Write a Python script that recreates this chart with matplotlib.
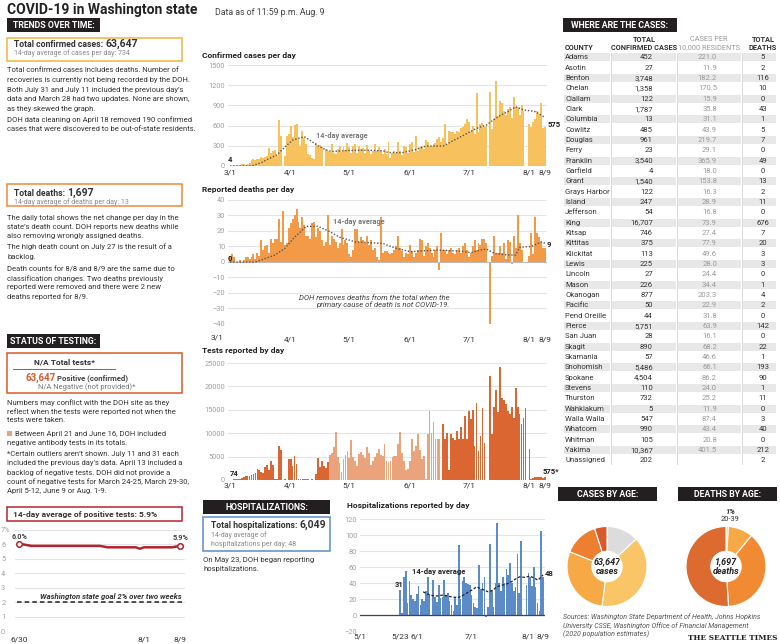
import numpy as np
import pandas as pd
import matplotlib
matplotlib.use("Agg")
import matplotlib.pyplot as plt
from matplotlib.patches import Rectangle

plt.rcParams['font.family'] = ['Roboto', 'DejaVu Sans']

# ---------------- data ----------------
start = pd.Timestamp('2020-03-01')
nan = np.nan

# confirmed cases per day, 3/1 .. 8/9 (nan = not shown)
cases = [4, 3, 8, 10, 18, 14, 25, 30, 22, 28,
         40, 95, 100, 90, 110, 100, 130, 120, 140, 150,
         270, 190, 230, 240, 150, 690, 450, nan, 150, 450,
         480, 600, 430, 610, 620, 400, 300, 520, 420, 330,
         180, 160, 120, 100, 340, 300, 310, 280, nan, 250,
         230, 210, 330, 200, 180, 250, 300, 210, 280, 240,
         340, 280, 200, 290, 320, 200, 300, 250, 260, 200,
         310, 240, 180, 230, 330, 220, 280, 220, 180, 250,
         180, 350, 120, 200, 230, 190, 350, 230, 170, 300,
         280, 200, 330, 350, 210, 450, 220, 280, 300, 250,
         380, 360, 290, 300, 330, 340, 400, 430, 360, 420,
         620, 330, 520, 500, 510, 480, 520, 500, 560, 580,
         620, 700, 650, 520, 600, 480, 1080, 500, 620, 640,
         580, 600, nan, 1100, 550, 700, 1260, 750, 960, 940,
         820, 760, 850, 870, 720, 1020, 880, 870, 760, 900,
         820, nan, nan, 620, 580, 650, 700, 820, 770, 930,
         570, 575]
cases_avg_days = [0, 10, 12, 16, 20, 24, 28, 32, 35, 38, 41, 45, 49, 52, 60, 70, 78, 81, 88,
                  94, 100, 109, 113, 118, 126, 131, 137, 142, 146, 150, 153, 156, 161]
cases_avg = [0, 2, 10, 50, 110, 165, 280, 385, 410, 435, 380, 300, 240, 215, 230, 235, 225, 200, 198,
             237, 295, 297, 360, 435, 560, 608, 733, 807, 880, 832, 822, 807, 720]

# reported deaths per day
deaths = [4, 5, 3, 0, 0, 1, 0, 1, 3, 3,
          2, 3, 5, 2, 6, 4, 14, 8, 10, 11,
          6, 15, 12, 15, 15, 28, 13, 33, 11, 12,
          22, 25, 28, 30, 34, 26, 22, 29, 24, 17,
          17, 15, 25, 26, 16, 22, 20, 14, 10, 13,
          30, 11, 17, 15, 13, 9, 12, 21, 11, 14,
          12, 5, 3, 8, 21, 21, 13, 16, 14, 12,
          17, 11, 14, 8, 9, 3, 1, 29, 6, 7,
          7, 6, 5, 6, 8, 10, 17, 9, 7, 3,
          6, 5, 11, 7, 3, 6, 8, 15, 14, 4,
          10, 12, 9, 6, 3, 8, 10, -5, 19, 8,
          8, 5, 8, 9, 6, 5, 8, 9, 6, 10,
          12, 8, 3, 6, 10, 14, 8, 12, 11, 15,
          15, 12, nan, -40, 4, 17, 5, 6, 10, 6,
          12, 2, 14, 13, -1, 17, 9, 30, 12, 8,
          0, 0, nan, 4, 19, 5, 29, 19, 16, 13,
          9, 9]
deaths_avg_days = [0, 13, 16, 23, 28, 33, 39, 45, 51, 56, 64, 78, 85, 92, 106, 118, 123,
                   128, 131, 135, 142, 146, 148, 154, 159, 161]
deaths_avg = [0, 0, 1.3, 4.5, 8.8, 16, 23, 23, 19.6, 16, 13, 12, 8.8, 6.7, 7.7, 7, 6,
              7.7, 8.4, 5.6, 4.5, 4.5, 9.5, 10, 13, 12]

# tests reported by day
tests = [74, 100, 150, 200, 250, 300, 400, 700, 800, 900,
         900, 1100, 1300, 1500, 2300, 2100, 1700, 1500, 2800, 3300,
         2100, 4000, 3300, 200, 150, 7300, 6400, nan, 150, 100,
         4500, 4500, 3000, 5200, 3400, 200, 200, 300, 250, 150,
         150, 100, 150, nan, 1300, 4600, 2700, 4000, 3000, 2500,
         3900, 5300, 5800, 7000, 10200, 5000, 3700, 1700, 4500, 5300,
         6100, 4600, 8600, 5000, 4000, 3000, 5500, 6000, 5300, 4800,
         7100, 5800, 3200, 4000, 5000, 5700, 6700, 5400, 5200, 7700,
         4000, 3800, 4000, 5000, 5200, 5200, 7600, 10300, 5700, 4000,
         2200, 2300, 4000, 8800, 6200, 7300, 9800, 6400, 4500, 5200,
         300, 9800, 14800, 10000, 12500, 8700, 8700, 8800, nan, 11900,
         8800, 10100, 2200, 9800, 9000, 8500, 10500, 8700, 11400, 8700,
         13700, 8700, 14800, 13000, 15000, 7300, 16500, 6200, 9500, 15300,
         8000, nan, nan, 22300, 9900, 15600, 19300, 14500, 24100, 17500,
         17000, 16200, 14800, 14000, 15700, 13200, 19700, 15600, 14000, 12000,
         13200, 15300, nan, 6700, 300, 500, 600, 600, 700, 600,
         500, 575]
antibody_start, antibody_end = '2020-04-21', '2020-06-16'

# hospitalizations, 5/23 .. 8/9
hosp_start = pd.Timestamp('2020-05-23')
hosp = [31, 2, 48, 55, 15, 42, 25, 20, 17, 26,
        36, 12, 20, 18, 30, 48, 25, 0, 44, 23,
        16, 37, 21, 22, 44, 25, 28, 18, 12, 5,
        22, 12, 88, 20, 43, 48, 40, 39, 37, 25,
        15, 10, 9, 62, 33, 40, 48, -2, 10, 89,
        30, 10, 40, 115, 40, 30, 48, 40, 58, 50,
        65, 40, 30, 35, 76, 28, 92, 0, 0, 37,
        52, 48, 36, 60, 35, 15, 5, 105, 48]
hosp_avg_days = [34.5, 37, 41, 45.5, 50, 53.6, 55.5, 61, 63.6, 66, 70, 72.7, 74.5, 77, 80,
                 82.7, 85.5, 87.3, 90, 92.7, 94.5, 97.3, 100]
hosp_avg = [29, 26, 23.5, 25, 22.6, 21.8, 23.5, 31, 35, 33, 29, 31, 35, 37, 38.6,
            41.5, 45.7, 47.8, 47, 48.6, 47, 43.6, 50]

# 14-day average of positive tests, 6/30 .. 8/9
pos_rate = [6.0, 6.0, 5.95] + [5.9] * 18 + [5.85] + [5.8] * 8 + [5.7] + [5.8] * 8 + [5.85, 5.9]

counties = ['Adams', 'Asotin', 'Benton', 'Chelan', 'Clallam', 'Clark', 'Columbia', 'Cowlitz',
            'Douglas', 'Ferry', 'Franklin', 'Garfield', 'Grant', 'Grays Harbor', 'Island',
            'Jefferson', 'King', 'Kitsap', 'Kittitas', 'Klickitat', 'Lewis', 'Lincoln', 'Mason',
            'Okanogan', 'Pacific', 'Pend Oreille', 'Pierce', 'San Juan', 'Skagit', 'Skamania',
            'Snohomish', 'Spokane', 'Stevens', 'Thurston', 'Wahkiakum', 'Walla Walla', 'Whatcom',
            'Whitman', 'Yakima', 'Unassigned']
county_cases = [452, 27, 3748, 1358, 122, 1787, 13, 485, 961, 23, 3540, 4, 1540, 122, 247, 54,
                16707, 746, 375, 113, 225, 27, 226, 877, 50, 44, 5751, 28, 890, 57, 5486, 4504,
                110, 732, 5, 547, 990, 105, 10367, 202]
county_per10k = [221.0, 11.9, 182.2, 170.5, 15.9, 35.8, 31.1, 43.9, 219.7, 29.1, 365.9, 18.0,
                 153.8, 16.3, 28.9, 16.8, 73.9, 27.4, 77.9, 49.6, 28.0, 24.4, 34.4, 203.3, 22.9,
                 31.8, 63.9, 16.1, 68.2, 46.6, 66.1, 86.2, 24.0, 25.2, 11.9, 87.4, 43.4, 20.8,
                 401.5, None]
county_deaths = [5, 2, 116, 10, 0, 43, 1, 5, 7, 0, 49, 0, 13, 2, 11, 0, 676, 7, 20, 3, 3, 0, 1,
                 4, 2, 0, 142, 0, 22, 1, 193, 90, 1, 11, 0, 3, 40, 0, 212, 2]

case_age_groups = ['0-19', '20-39', '40-59', '60-79', '80+']
case_age_pct = [13, 39, 29, 14, 5]
death_age_groups = ['20-39', '40-59', '60-79', '80+']
death_age_pct = [1, 10, 38, 51]

tick_dates = ['2020-03-01', '2020-04-01', '2020-05-01', '2020-06-01', '2020-07-01',
              '2020-08-01', '2020-08-09']
tick_labels = ['3/1', '4/1', '5/1', '6/1', '7/1', '8/1', '8/9']

# ---------------- layout helpers ----------------
W, H = 780, 644
fig = plt.figure(figsize=(W / 100, H / 100), dpi=100)
canvas = fig.add_axes([0, 0, 1, 1])
canvas.set_xlim(0, W)
canvas.set_ylim(H, 0)
canvas.axis('off')
renderer = fig.canvas.get_renderer()

DARK = '#333333'
GRAY = '#8a8a8a'
BODY = 5.5


def px_axes(x0, y0, x1, y1):
    return fig.add_axes([x0 / W, 1 - y1 / H, (x1 - x0) / W, (y1 - y0) / H])


def label(x, y, s, size=BODY, color=DARK, weight='normal', style='normal', ha='left', va='center', **kw):
    return canvas.text(x, y, s, fontsize=size, color=color, fontweight=weight, fontstyle=style,
                       ha=ha, va=va, **kw)


def label_after(first, y, s, gap=2, **kw):
    # put a second text just after the right edge of the first one
    bb = first.get_window_extent(renderer)
    return label(bb.x1 + gap, y, s, **kw)


def header(x0, y0, x1, y1, s):
    canvas.add_patch(Rectangle((x0, y0), x1 - x0, y1 - y0, color='#231f20', lw=0))
    label((x0 + x1) / 2, (y0 + y1) / 2 + 0.5, s, size=6.3, color='white', weight='bold', ha='center')


def outline(x0, y0, x1, y1, color):
    canvas.add_patch(Rectangle((x0, y0), x1 - x0, y1 - y0, fill=False, ec=color, lw=1.1))


def lines(x, y0, step, texts, **kw):
    for i, t in enumerate(texts):
        label(x, y0 + i * step, t, **kw)


def day_of(d, base=start):
    return (pd.Timestamp(d) - base).days


def style_chart(ax, ylim, yticks, xlim, grid_color='#e4e4e4'):
    for s in ax.spines.values():
        s.set_visible(False)
    ax.set_xlim(*xlim)
    ax.set_ylim(*ylim)
    ax.set_yticks(yticks)
    ax.grid(axis='y', color=grid_color, lw=0.8)
    ax.set_axisbelow(True)
    ax.tick_params(axis='y', length=0, labelsize=5.3, labelcolor='#a0a0a0', pad=2)
    ax.tick_params(axis='x', length=0, labelsize=6, labelcolor=DARK)
    ax.patch.set_alpha(0)


# ---------------- title ----------------
label(7, 10, 'COVID-19 in Washington state', size=10, weight='bold', color='#222')
label(215, 12, 'Data as of 11:59 p.m. Aug. 9', size=6.3, color='#444')

# ---------------- left column ----------------
header(7, 18, 100, 32, 'TRENDS OVER TIME:')
outline(7, 38, 182, 61, '#f5b240')
t = label(14, 44, 'Total confirmed cases:', size=6.2, weight='bold')
label_after(t, 43.5, '63,647', size=7.5, weight='bold')
label(14, 53.5, '14-day average of cases per day: 734', size=5, color=GRAY)
lines(7, 70, 9.6, ['Total confirmed cases includes deaths. Number of',
                   'recoveries is currently not being recorded by the DOH.'])
lines(7, 90, 9.4, ['Both July 31 and July 11 included the previous day\u2019s',
                   'data and March 28 had two updates. None are shown,',
                   'as they skewed the graph.'])
lines(7, 119.5, 9.6, ['DOH data cleaning on April 18 removed 190 confirmed',
                      'cases that were discovered to be out-of-state residents.'])

outline(7, 184, 182, 206, '#f08a3c')
t = label(14, 193, 'Total deaths:', size=6.2, weight='bold')
label_after(t, 192.5, '1,697', size=7.5, weight='bold')
label(14, 202.5, '14-day average of deaths per day: 13', size=5, color=GRAY)
lines(7, 218, 9, ['The daily total shows the net change per day in the',
                  'state\u2019s death count. DOH reports new deaths while',
                  'also removing wrongly assigned deaths.'])
lines(7, 247, 9.5, ['The high death count on July 27 is the result of a', 'backlog.'])
lines(7, 269, 9.2, ['Death counts for 8/8 and 8/9 are the same due to',
                    'classification changes. Two deaths previously',
                    'reported were removed and there were 2 new',
                    'deaths reported for 8/9.'])

header(7, 334, 100, 348, 'STATUS OF TESTING:')
outline(7, 353, 182, 393, '#d85a2a')
label(65, 362, 'N/A Total tests*', size=6, weight='bold', ha='center')
canvas.plot([13, 115], [369, 369], color='#555', lw=0.6)
t = label(25, 377.5, '63,647', size=7, weight='bold', color='#d85a2a')
label_after(t, 378, 'Positive (confirmed)', gap=1.5, size=5.6, weight='bold', color='#444')
label(38, 387.5, 'N/A Negative (not provided)*', size=5.4, color='#777')
lines(7, 403, 8.7, ['Numbers may conflict with the DOH site as they',
                    'reflect when the tests were reported not when the',
                    'tests were taken.'])
canvas.add_patch(Rectangle((7, 431), 5, 5, color='#eba37c', lw=0))
label(15, 433.5, 'Between April 21 and June 16, DOH included')
label(7, 442.5, 'negative antibody tests in its totals.')
lines(7, 454, 9.2, ['*Certain outliers aren\u2019t shown. July 11 and 31 each',
                    'included the previous day\u2019s data. April 13 included a',
                    'backlog of negative tests. DOH did not provide a',
                    'count of negative tests for March 24-25, March 29-30,',
                    'April 5-12, June 9 or Aug. 1-9.'])

outline(7, 507, 182, 521, '#b32430')
label(13, 514, '14-day average of positive tests: 5.9%', size=6, weight='bold')

# positive tests chart
ax = px_axes(15, 530, 185, 631)
pdays = np.arange(len(pos_rate))
style_chart(ax, (0, 7), range(0, 8), (-1.07, 41.24))
ax.plot(pdays, pos_rate, color='#b32430', lw=1.8, solid_capstyle='round')
ax.plot([pdays[0], pdays[-1]], [pos_rate[0], pos_rate[-1]], 'o', mfc='white', mec='#b32430',
        ms=4, mew=1.1)
ax.axhline(2, color='#222', lw=1.1, ls=(0, (3, 2)), xmin=0.01, xmax=0.98)
ax.text(40.5, 2.15, 'Washington state goal 2% over two weeks', fontsize=5.6, fontweight='bold',
        fontstyle='italic', color='#333', ha='right', va='bottom')
ax.text(pdays[0], pos_rate[0] + 0.25, f'{pos_rate[0]:.1f}%', fontsize=5.2, fontweight='bold',
        color='#444', ha='center', va='bottom')
ax.text(pdays[-1], pos_rate[-1] + 0.25, f'{pos_rate[-1]:.1f}%', fontsize=5.2, fontweight='bold',
        color='#444', ha='center', va='bottom')
ax.set_yticklabels(['0', '1', '2', '3', '4', '5', '6', '7%'])
for t in ax.get_yticklabels():
    t.set_ha('left')
ax.tick_params(axis='y', pad=10)
pos_start = pd.Timestamp('2020-06-30')
ax.set_xticks([0, day_of('2020-07-31', pos_start), day_of('2020-08-09', pos_start)])
ax.set_xticklabels(['6/30', '8/1', '8/9'])
ax.tick_params(axis='x', pad=4)

# ---------------- middle charts ----------------
days = np.arange(len(cases))
tick_pos = [day_of(d) for d in tick_dates]
xl = (-1.02, 162.0)

label(202, 55, 'Confirmed cases per day', size=6, weight='bold', color='#222')
ax = px_axes(228, 65, 547, 166)
style_chart(ax, (0, 1500), range(0, 1501, 300), xl)
ax.bar(days, cases, width=1.0, color='#f7c25e', lw=0)
ax.plot(cases_avg_days, cases_avg, color='#555', lw=1, ls=(0, (1, 1.3)))
ax.set_xticks(tick_pos)
ax.set_xticklabels(tick_labels)
ax.tick_params(axis='x', pad=2.2)
ax.text(days[0], cases[0] + 40, str(cases[0]), fontsize=5.5, fontweight='bold', color='#222',
        ha='center', va='bottom')
ax.text(days[-1] + 1.5, 620, str(cases[-1]), fontsize=5.5, fontweight='bold', color='#222',
        ha='left', va='center')
ax.text(57, 440, '14-day average', fontsize=5.3, fontweight='bold', color='#777', ha='center',
        va='center')

label(202, 189, 'Reported deaths per day', size=6, weight='bold', color='#222')
ax = px_axes(228, 200, 547, 324)
style_chart(ax, (-40, 40), range(-40, 41, 10), xl)
ax.axhline(0, color='#bbb', lw=0.8)
ax.bar(days, deaths, width=1.0, color='#f29a48', lw=0)
ax.plot(deaths_avg_days, deaths_avg, color='#555', lw=1, ls=(0, (1, 1.3)))
ax.set_xticks(tick_pos[1:])
ax.set_xticklabels(tick_labels[1:])
ax.tick_params(axis='x', pad=9)
label(211, 337, tick_labels[0], size=6)
ax.text(days[0], 2, '0', fontsize=5.5, fontweight='bold', color='#222', ha='center',
        va='center')
ax.text(days[-1] + 1, 11, str(deaths[-1]), fontsize=5.5, fontweight='bold', color='#222',
        ha='left', va='center')
ax.text(66, 25.5, '14-day average', fontsize=5.3, fontweight='bold', color='#777', ha='center',
        va='center')
ax.text(112, -25.5, 'DOH removes deaths from the total when the\nprimary cause of death is not COVID-19.',
        fontsize=5.6, fontstyle='italic', color='#444', ha='right', va='center', linespacing=1.2)

label(202, 350, 'Tests reported by day', size=6, weight='bold', color='#222')
ax = px_axes(228, 363, 547, 480)
style_chart(ax, (0, 25000), range(0, 25001, 5000), xl)
a0, a1 = day_of(antibody_start), day_of(antibody_end)
test_colors = ['#eba37c' if a0 <= d <= a1 else '#dc6631' for d in days]
ax.bar(days, tests, width=0.9, color=test_colors, lw=0)
ax.set_xticks(tick_pos)
ax.set_xticklabels(tick_labels)
ax.tick_params(axis='x', pad=2)
ax.text(days[0], tests[0] + 500, str(tests[0]), fontsize=5.5, fontweight='bold', color='#222',
        ha='left', va='bottom')
ax.text(days[-1] - 1, tests[-1] + 500, f'{tests[-1]}*', fontsize=5.5, fontweight='bold',
        color='#222', ha='left', va='bottom')

# hospitalizations
header(203, 500, 330, 514, 'HOSPITALIZATIONS:')
outline(203, 517, 330, 551, '#5b8cc8')
t = label(211, 525.5, 'Total hospitalizations:', size=6.2, weight='bold')
label_after(t, 525, '6,049', size=7.5, weight='bold')
label(211, 535.5, '14-day average of', size=5, color=GRAY)
label(211, 545, 'hospitalizations per day: 48', size=5, color=GRAY)
lines(203, 560, 9.5, ['On May 23, DOH began reporting', 'hospitalizations.'])

label(347, 505, 'Hospitalizations reported by day', size=6, weight='bold', color='#222')
ax = px_axes(360, 519, 545, 631)
hosp_base = pd.Timestamp('2020-05-01')
hdays = np.arange(len(hosp)) + day_of(hosp_start, hosp_base)
style_chart(ax, (-20, 120), range(-20, 121, 20), (0, 101.1))
ax.axhline(0, color='#444', lw=0.9)
ax.bar(hdays, hosp, width=0.9, color='#5b8cc8', lw=0)
ax.plot(hosp_avg_days, hosp_avg, color='#222', lw=0.9, ls=(0, (2.2, 1.4)))
h_ticks = ['2020-05-01', '2020-05-23', '2020-06-01', '2020-07-01', '2020-08-01', '2020-08-09']
ax.set_xticks([day_of(d, hosp_base) for d in h_ticks])
ax.set_xticklabels(['5/1', '5/23', '6/1', '7/1', '8/1', '8/9'])
ax.tick_params(axis='x', pad=2)
ax.text(hdays[0] - 0.5, hosp[0] + 3, str(hosp[0]), fontsize=5.5, fontweight='bold', color='#222',
        ha='center', va='bottom')
ax.text(hdays[-1] + 1, 52, str(hosp[-1]), fontsize=5.5, fontweight='bold', color='#222',
        ha='left', va='center')
ax.text(43, 54, '14-day average', fontsize=5.5, fontweight='bold', color='#222', ha='center',
        va='center')

# ---------------- table ----------------
header(563, 18, 677, 32, 'WHERE ARE THE CASES:')
label(565, 47.5, 'COUNTY', size=5.3, weight='bold')
label(644, 39.5, 'TOTAL', size=5.3, weight='bold', ha='center')
label(644, 47.5, 'CONFIRMED CASES', size=5.3, weight='bold', ha='center')
label(709, 39.5, 'CASES PER', size=5.3, color='#999', ha='center')
label(709, 47.5, '10,000 RESIDENTS', size=5.3, color='#999', ha='center')
label(763, 39.5, 'TOTAL', size=5.3, weight='bold', ha='center')
label(763, 47.5, 'DEATHS', size=5.3, weight='bold', ha='center')
col_spans = [(564, 610), (612, 676), (678, 741), (743, 776)]
for x in (611, 677, 742):
    canvas.plot([x, x], [53, 464], color='#d6d6d6', lw=0.6)
row_h = 10.33
for i, name in enumerate(counties):
    y = 57.3 + i * row_h
    if i % 2 == 0:
        for c0, c1 in col_spans:
            canvas.add_patch(Rectangle((c0, y - 4), c1 - c0, 8, color='#e8e8e8', lw=0))
    label(565, y, name, size=5.5)
    label(653, y, f'{county_cases[i]:,}', size=5.5, ha='right')
    per = county_per10k[i]
    label(717, y, '' if per is None else f'{per:.1f}', size=5.5, ha='right', color='#9a9a9a')
    label(763, y, str(county_deaths[i]), size=5.5, ha='center')

# ---------------- donuts ----------------
header(558, 487, 657, 501, 'CASES BY AGE:')
header(678, 487, 777, 501, 'DEATHS BY AGE:')


def donut(cx, cy, r, vals, colors):
    a = px_axes(cx - r, cy - r, cx + r, cy + r)
    a.pie(vals, colors=colors, startangle=90, counterclock=False, radius=1,
          wedgeprops=dict(width=0.62, edgecolor='white', linewidth=0.8))
    a.set_xlim(-1, 1)
    a.set_ylim(-1, 1)
    a.set_aspect('equal')
    a.axis('off')


donut(607, 566.5, 40, case_age_pct, ['#dcdcdc', '#f9c566', '#f6a944', '#ee7e30', '#d8592b'])
donut(726, 566.5, 40, death_age_pct, ['#f9c566', '#f6a944', '#f08a33', '#dd6a2e'])

case_lbl_pos = [(616, 534, '#666'), (631, 568, DARK), (583, 568, DARK), (583, 542, 'white'),
                (598, 533, 'white')]
for (x, y, c), g, p in zip(case_lbl_pos, case_age_groups, case_age_pct):
    label(x, y, f'{p}%', size=5.6, weight='bold', style='italic', color=c, ha='center')
    label(x, y + 8.5, g, size=5.4, color=c, ha='center')
death_lbl_pos = [(730, 511, DARK), (736, 535, DARK), (757, 564, 'white'), (697, 564, 'white')]
for (x, y, c), g, p in zip(death_lbl_pos, death_age_groups, death_age_pct):
    label(x, y, f'{p}%', size=5.6, weight='bold', style='italic', color=c, ha='center')
    label(x, y + 8.5, g, size=5.4, color=c, ha='center')
label(607, 562, '63,647', size=6.5, weight='bold', style='italic', color='#222', ha='center')
label(607, 571, 'cases', size=6.5, weight='bold', style='italic', color='#222', ha='center')
label(726, 562, '1,697', size=6.5, weight='bold', style='italic', color='#222', ha='center')
label(726, 571, 'deaths', size=6.5, weight='bold', style='italic', color='#222', ha='center')

lines(563, 617, 8.6, ['Sources: Washington State Department of Health, Johns Hopkins',
                      'University CSSE, Washington Office of Financial Management',
                      '(2020 population estimates)'], size=5, style='italic', color='#555')
canvas.text(777, 638, 'THE SEATTLE TIMES', fontsize=5.3, fontweight='bold', color='#222',
            family='DejaVu Serif', ha='right', va='center')

fig.savefig('out.png', dpi=100, facecolor='white')
